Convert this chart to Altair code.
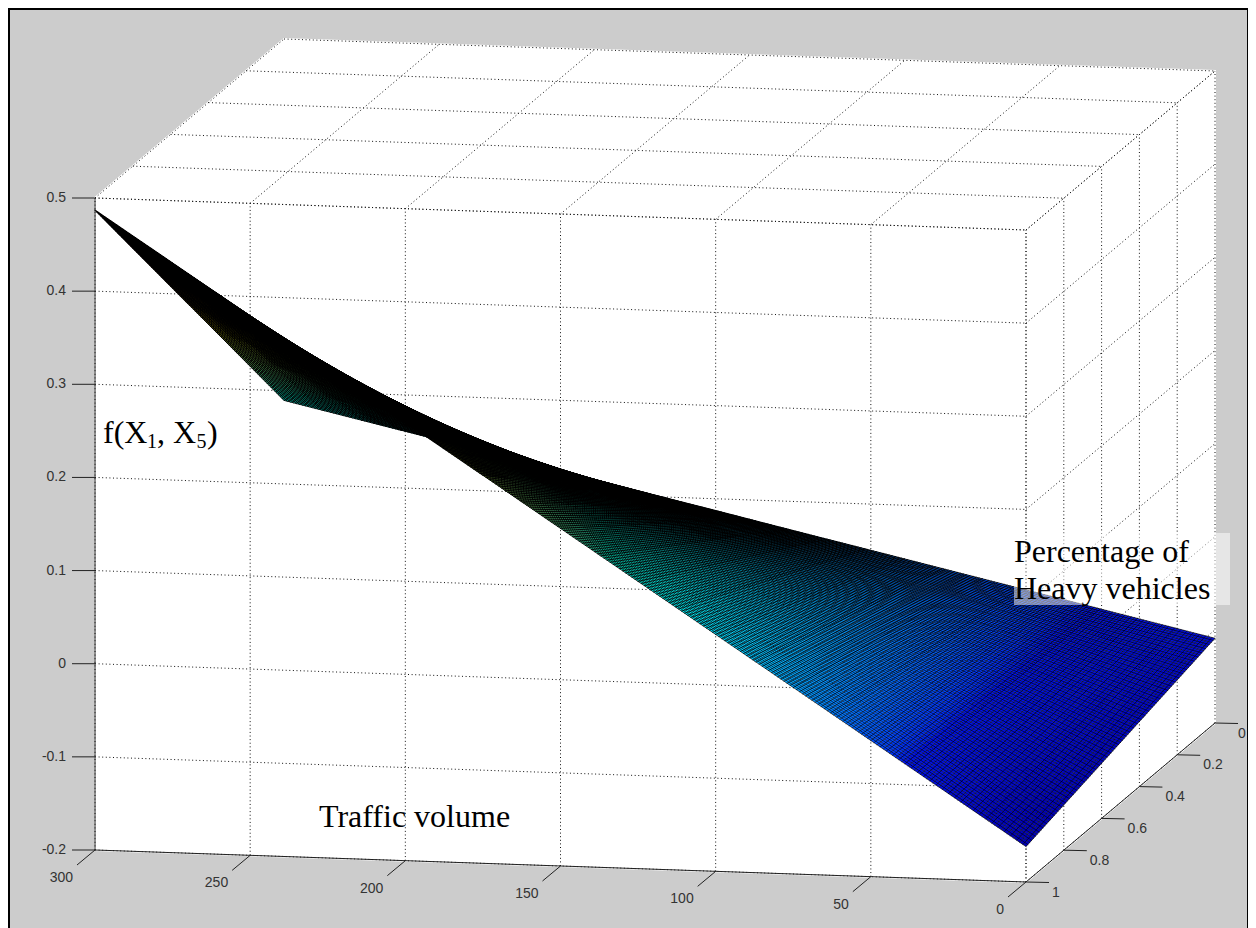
import altair as alt
import pandas as pd

# ---- values ----
traffic_ticks = [300, 250, 200, 150, 100, 50, 0]
share_ticks = [0, 0.2, 0.4, 0.6, 0.8, 1]
f_ticks = [0.5, 0.4, 0.3, 0.2, 0.1, 0, -0.1, -0.2]
f_tick_labels = ["0.5", "0.4", "0.3", "0.2", "0.1", "0", "-0.1", "-0.2"]
share_tick_labels = ["0", "0.2", "0.4", "0.6", "0.8", "1"]
# surface values at the four corners of the sheet (traffic, share, f)
corner_f = {(300, 1): 0.487, (300, 0): 0.112, (0, 0): -0.109, (0, 1): -0.162}
mesh_traffic_cells = 300
mesh_share_cells = 100
jet = ["#0000b8", "#0014f0", "#00ffff", "#ffff00", "#ff0000", "#800000"]
jet_stops = [-0.162, -0.08, 0.082, 0.244, 0.406, 0.487]


def project(t, p, z):
    x = 1026 - t * 931 / 300 + (1 - p) * 189
    y = 882 - t * 32 / 300 - (1 - p) * 159 - (z + 0.2) * 652 / 0.7
    return x, y


def surface(t, p):
    a = t / 300
    return (
        a * p * corner_f[(300, 1)]
        + a * (1 - p) * corner_f[(300, 0)]
        + (1 - a) * (1 - p) * corner_f[(0, 0)]
        + (1 - a) * p * corner_f[(0, 1)]
    )


def screen(t, p):
    return project(t, p, surface(t, p))


def cell_area(t, p):
    """Screen area of one mesh cell: thin lines where cells are large, as the aliased original looks."""
    x0, y0 = screen(t, p)
    x1, y1 = screen(t + 1, p)
    x2, y2 = screen(t, p + 0.01)
    return abs((x1 - x0) * (y2 - y0) - (y1 - y0) * (x2 - x0))


def line_width(t, p):
    return round(max(0.62, 1.25 - 0.08 * cell_area(t, p)), 2)


def seg(t0, p0, z0, t1, p1, z1):
    x, y = project(t0, p0, z0)
    x2, y2 = project(t1, p1, z1)
    return {"x": x, "y": y, "x2": x2, "y2": y2}


X = dict(scale=alt.Scale(domain=[8, 1248], range=[0, 1240], zero=False, nice=False), axis=None)
Y = dict(scale=alt.Scale(domain=[8, 928], range=[0, 920], zero=False, nice=False), axis=None)


def rules(rows, **mark):
    return (
        alt.Chart(pd.DataFrame(rows))
        .mark_rule(**mark)
        .encode(
            x=alt.X("x:Q", **X),
            y=alt.Y("y:Q", **Y),
            x2="x2:Q",
            y2="y2:Q",
        )
    )


def texts(rows, **mark):
    return (
        alt.Chart(pd.DataFrame(rows))
        .mark_text(**mark)
        .encode(x=alt.X("x:Q", **X), y=alt.Y("y:Q", **Y), text="t:N")
    )


frame = (
    alt.Chart(pd.DataFrame({"a": [0]}))
    .mark_rect(fill="#cccccc", stroke="#000000", strokeWidth=2)
    .encode(x=alt.value(1), x2=alt.value(1240), y=alt.value(1), y2=alt.value(930))
)

box = [(300, 1, -0.2), (300, 1, 0.5), (300, 0, 0.5), (0, 0, 0.5), (0, 0, -0.2), (0, 1, -0.2)]
box_rows = [dict(zip("xy", project(*c)), i=i) for i, c in enumerate(box)]
walls = (
    alt.Chart(pd.DataFrame(box_rows))
    .mark_line(filled=True, interpolate="linear-closed", fill="#ffffff", stroke="#ffffff")
    .encode(x=alt.X("x:Q", **X), y=alt.Y("y:Q", **Y), order="i:Q")
)

grid_rows = []
for t in traffic_ticks:
    grid_rows.append(seg(t, 1, -0.2, t, 1, 0.5))
    grid_rows.append(seg(t, 1, 0.5, t, 0, 0.5))
for p in share_ticks:
    grid_rows.append(seg(0, p, -0.2, 0, p, 0.5))
    grid_rows.append(seg(300, p, 0.5, 0, p, 0.5))
for z in f_ticks:
    grid_rows.append(seg(300, 1, z, 0, 1, z))
    grid_rows.append(seg(0, 1, z, 0, 0, z))
grid = rules(grid_rows, color="#111111", strokeWidth=1, strokeDash=[1, 2.6])

# faces
nft, nfp = 150, 50
face_rows = []
for i in range(nft):
    for j in range(nfp):
        t0, t1 = 300 * i / nft, 300 * (i + 1) / nft
        p0, p1 = j / nfp, (j + 1) / nfp
        z = surface(t0, p0)
        for k, (tt, pp) in enumerate([(t0, p0), (t1, p0), (t1, p1), (t0, p1)]):
            x, y = screen(tt, pp)
            face_rows.append({"x": round(x, 1), "y": round(y, 1), "q": i * 1000 + j, "k": k, "z": round(z, 3)})
alt.data_transformers.disable_max_rows()
faces = (
    alt.Chart(pd.DataFrame(face_rows))
    .mark_line(filled=True, interpolate="linear-closed", strokeWidth=0.5)
    .encode(
        x=alt.X("x:Q", **X),
        y=alt.Y("y:Q", **Y),
        detail="q:N",
        order="k:Q",
        color=alt.Color("z:Q", scale=alt.Scale(domain=jet_stops, range=jet), legend=None),
    )
)

mesh_rows = []
n_along_share, n_along_traffic = 8, 24
for i in range(mesh_traffic_cells + 1):
    t = 300 * i / mesh_traffic_cells
    for s in range(n_along_share):
        p0, p1 = s / n_along_share, (s + 1) / n_along_share
        a, b = screen(t, p0), screen(t, p1)
        mesh_rows.append({"x": round(a[0], 2), "y": round(a[1], 2), "x2": round(b[0], 2), "y2": round(b[1], 2),
                          "w": line_width(t, (p0 + p1) / 2)})
for j in range(mesh_share_cells + 1):
    p = j / mesh_share_cells
    for s in range(n_along_traffic):
        t0, t1 = 300 * s / n_along_traffic, 300 * (s + 1) / n_along_traffic
        a, b = screen(t0, p), screen(t1, p)
        mesh_rows.append({"x": round(a[0], 2), "y": round(a[1], 2), "x2": round(b[0], 2), "y2": round(b[1], 2),
                          "w": line_width((t0 + t1) / 2, p)})
mesh = (
    alt.Chart(pd.DataFrame(mesh_rows))
    .mark_rule(color="#000000", strokeCap="round")
    .encode(
        x=alt.X("x:Q", **X),
        y=alt.Y("y:Q", **Y),
        x2="x2:Q",
        y2="y2:Q",
        strokeWidth=alt.StrokeWidth("w:Q", scale=None, legend=None),
    )
)

axis_rows = [
    seg(300, 1, -0.2, 0, 1, -0.2),
    seg(0, 1, -0.2, 0, 0, -0.2),
    seg(300, 1, -0.2, 300, 1, 0.5),
]
for t in traffic_ticks:
    x, y = project(t, 1, -0.2)
    axis_rows.append({"x": x, "y": y, "x2": x - 18, "y2": y + 15})
for p in share_ticks:
    x, y = project(0, p, -0.2)
    axis_rows.append({"x": x, "y": y, "x2": x + 23, "y2": y + 0.5})
for z in f_ticks:
    x, y = project(300, 1, z)
    axis_rows.append({"x": x, "y": y, "x2": x - 23, "y2": y})
axes = rules(axis_rows, color="#222222", strokeWidth=1)

tick_font = dict(font="Liberation Sans", fontSize=14, color="#333333", baseline="middle")
t_lab = [{"x": project(t, 1, -0.2)[0] - 22, "y": project(t, 1, -0.2)[1] + 28, "t": str(t)} for t in traffic_ticks]
p_lab = [
    {"x": min(project(0, p, -0.2)[0] + 26, 1238), "y": project(0, p, -0.2)[1] + 10.5, "t": s}
    for p, s in zip(share_ticks, share_tick_labels)
]
z_lab = [
    {"x": project(300, 1, z)[0] - 29, "y": project(300, 1, z)[1], "t": s}
    for z, s in zip(f_ticks, f_tick_labels)
]
t_text = texts(t_lab, align="right", **tick_font)
p_text = texts(p_lab, align="left", **tick_font)
z_text = texts(z_lab, align="right", **tick_font)

note_box = (
    alt.Chart(pd.DataFrame({"a": [0]}))
    .mark_rect(fill="#ffffff", opacity=0.5)
    .encode(x=alt.value(1006), x2=alt.value(1222), y=alt.value(525), y2=alt.value(597))
)
serif = dict(font="Liberation Serif", color="#000000", align="left", baseline="alphabetic")
notes = texts(
    [
        {"x": 319, "y": 827, "t": "Traffic volume"},
        {"x": 1014, "y": 562, "t": "Percentage of"},
        {"x": 1014, "y": 599, "t": "Heavy vehicles"},
        {"x": 103, "y": 443, "t": "f(X"},
        {"x": 157, "y": 443, "t": ", X"},
        {"x": 207, "y": 443, "t": ")"},
    ],
    fontSize=32,
    **serif,
)
subs = texts(
    [{"x": 147, "y": 448, "t": "1"}, {"x": 196.5, "y": 448, "t": "5"}],
    fontSize=20,
    **serif,
)

chart = alt.layer(
    frame, walls, grid, faces, mesh, axes, t_text, p_text, z_text, note_box, notes, subs
).properties(
    width=1240,
    height=920,
    padding=0,
    background="#ffffff",
    autosize=alt.AutoSizeParams(type="none", contains="padding"),
).configure_view(stroke=None)

chart.save("out.html", embed_options={"renderer": "svg", "actions": False})
